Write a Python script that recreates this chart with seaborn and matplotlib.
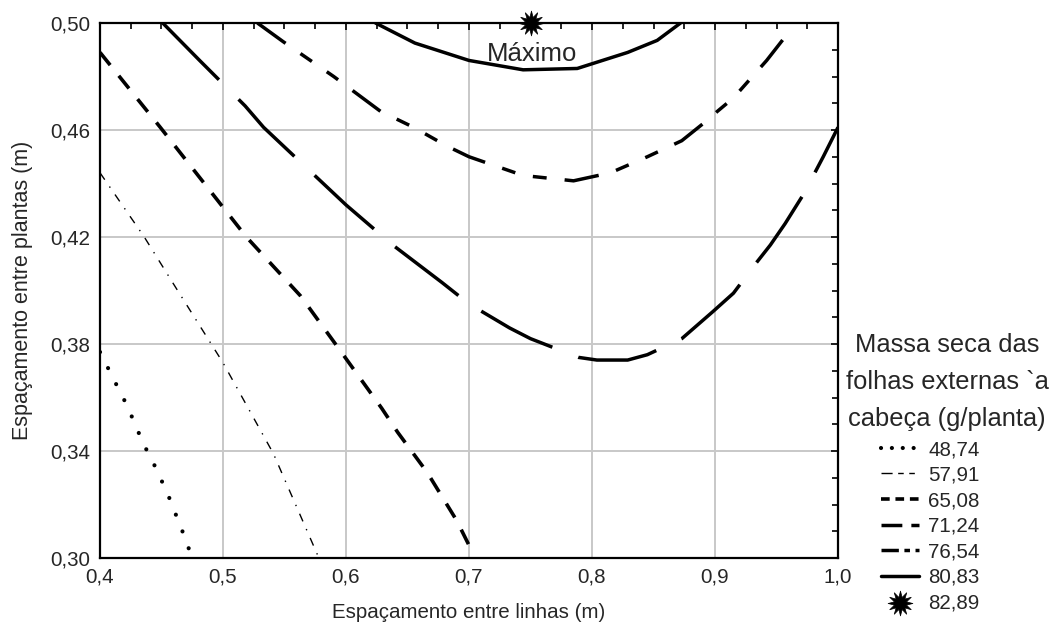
import matplotlib
matplotlib.use("Agg")
import seaborn as sns
import matplotlib.pyplot as plt
from matplotlib.lines import Line2D
from matplotlib.ticker import MultipleLocator

# contour lines (x = espaçamento entre linhas, y = entre plantas)
c48_x = [0.400, 0.412, 0.422, 0.435, 0.445, 0.455, 0.467, 0.475]
c48_y = [0.377, 0.366, 0.357, 0.343, 0.334, 0.324, 0.310, 0.300]

c57_x = [0.400, 0.436, 0.459, 0.500, 0.541, 0.577]
c57_y = [0.444, 0.420, 0.403, 0.373, 0.339, 0.301]

c65_x = [0.400, 0.449, 0.519, 0.563, 0.593, 0.629, 0.642, 0.666, 0.690, 0.703]
c65_y = [0.489, 0.461, 0.420, 0.398, 0.379, 0.356, 0.347, 0.332, 0.314, 0.302]

c71_x = [0.451, 0.481, 0.518, 0.533, 0.563, 0.600, 0.638, 0.658, 0.678, 0.700,
         0.733, 0.750, 0.789, 0.804, 0.829, 0.845, 0.873, 0.898, 0.915, 0.933,
         0.945, 0.957, 0.972, 0.988, 1.000]
c71_y = [0.500, 0.486, 0.469, 0.461, 0.448, 0.432, 0.417, 0.410, 0.403, 0.395,
         0.386, 0.382, 0.375, 0.374, 0.374, 0.376, 0.382, 0.392, 0.399, 0.410,
         0.417, 0.425, 0.436, 0.450, 0.461]

c76_x = [0.528, 0.549, 0.590, 0.628, 0.655, 0.682, 0.700, 0.744, 0.785, 0.815,
         0.845, 0.873, 0.892, 0.902, 0.915, 0.942, 0.959]
c76_y = [0.500, 0.493, 0.480, 0.467, 0.461, 0.454, 0.450, 0.443, 0.441, 0.444,
         0.450, 0.456, 0.463, 0.467, 0.472, 0.486, 0.496]

c80_x = [0.624, 0.656, 0.700, 0.744, 0.788, 0.829, 0.853, 0.872]
c80_y = [0.500, 0.4925, 0.486, 0.4825, 0.483, 0.489, 0.4935, 0.500]

max_x = [0.75]
max_y = [0.50]

level_labels = ["48,74", "57,91", "65,08", "71,24", "76,54", "80,83", "82,89"]

x_ticks = [0.4, 0.5, 0.6, 0.7, 0.8, 0.9, 1.0]
x_tick_labels = ["0,4", "0,5", "0,6", "0,7", "0,8", "0,9", "1,0"]
y_ticks = [0.30, 0.34, 0.38, 0.42, 0.46, 0.50]
y_tick_labels = ["0,30", "0,34", "0,38", "0,42", "0,46", "0,50"]

sns.set_style("white")
plt.rcParams["font.family"] = ["Liberation Sans", "DejaVu Sans"]

fig, ax = plt.subplots(figsize=(10.58, 6.31), dpi=100)
fig.subplots_adjust(left=100 / 1058, right=838 / 1058, bottom=1 - 558 / 631, top=1 - 23 / 631)

# (x, y, espessura, estilo no gráfico, estilo na legenda)
contornos = [
    (c48_x, c48_y, 3.0, (0, (0.01, 4.3)), (0, (0.01, 2.6))),
    (c57_x, c57_y, 1.0, (0, (6, 6, 1, 6)), (0, (8, 4, 4, 4, 4, 4))),
    (c65_x, c65_y, 2.6, (0, (4.5, 3.8)), (0, (2.4, 1.6))),
    (c71_x, c71_y, 2.5, (0, (23, 8)), (0, (6.0, 2.6))),
    (c76_x, c76_y, 2.5, (0, (10, 5.2, 4, 5.2, 4, 5.2)), (0, (5.0, 1.6, 1.6, 1.6, 1.6, 1.6))),
    (c80_x, c80_y, 2.5, "-", "-"),
]

handles = []
for cx, cy, lw, ls, ls_leg in contornos:
    sns.lineplot(x=cx, y=cy, sort=False, estimator=None, color="black",
                 lw=lw, linestyle=ls, ax=ax, legend=False)
    cap = "round" if lw > 2.7 else "butt"
    ax.lines[-1].set_dash_capstyle(cap)
    h = Line2D([], [], color="black", lw=lw, linestyle=ls_leg)
    h.set_dash_capstyle(cap)
    handles.append(h)

sns.scatterplot(x=max_x, y=max_y, marker=(12, 1, 0), s=320, color="black",
                edgecolor="black", linewidth=0.5, ax=ax, clip_on=False,
                zorder=5, legend=False)
handles.append(ax.collections[-1])

ax.text(0.751, 0.4885, "Máximo", fontsize=18.5, ha="center", va="center")

ax.set_xlim(0.4, 1.0)
ax.set_ylim(0.30, 0.50)
ax.set_xticks(x_ticks)
ax.set_xticklabels(x_tick_labels)
ax.set_yticks(y_ticks)
ax.set_yticklabels(y_tick_labels)
ax.xaxis.set_minor_locator(MultipleLocator(0.025))
ax.yaxis.set_minor_locator(MultipleLocator(0.01))
ax.tick_params(which="both", direction="in", top=True, right=True,
               color="black", width=1.2, labelsize=14.8)
ax.tick_params(which="major", length=5, pad=7)
ax.tick_params(which="minor", length=4)
ax.grid(True, which="major", color="#c8c8c8", lw=1.4)
ax.set_axisbelow(True)
for sp in ax.spines.values():
    sp.set_color("black")
    sp.set_linewidth(1.6)

ax.set_xlabel("Espaçamento entre linhas (m)", fontsize=14.8, labelpad=12)
ax.set_ylabel("Espaçamento entre plantas (m)", fontsize=15.5, labelpad=12)

fig.text(947 / 1058, 1 - 382 / 631,
         "Massa seca das\nfolhas externas `a\ncabeça (g/planta)",
         fontsize=18.4, ha="center", va="center", linespacing=1.7)

fig.legend(handles, level_labels, loc="upper left",
           bbox_to_anchor=(881 / 1058, 1 - 440 / 631), frameon=False,
           fontsize=14.8, handlelength=1.85, handletextpad=0.45,
           labelspacing=0.32, borderpad=0, borderaxespad=0)

plt.savefig("out.png", dpi=100)
